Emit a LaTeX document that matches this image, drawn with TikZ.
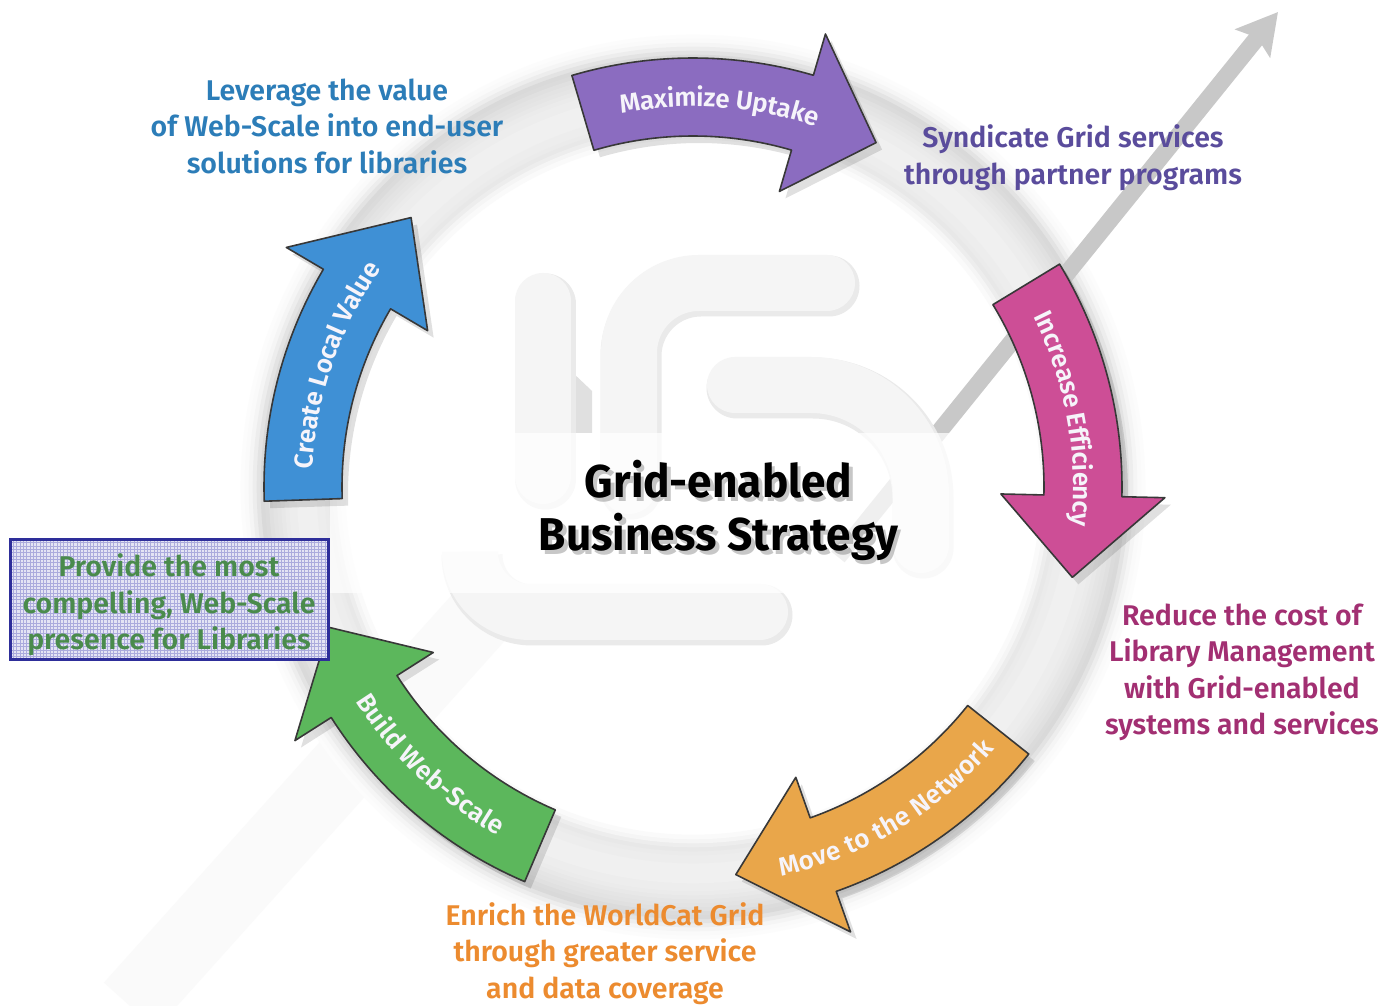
\documentclass[tikz,border=0pt]{standalone}
\usepackage{fontspec}
\setmainfont{Fira Sans}
\newfontfamily\titlefam{Fira Sans}[FakeStretch=0.96]
\newfontfamily\semib{Fira Sans}[UprightFont=* SemiBold]
\usetikzlibrary{decorations.text,arrows.meta}
\definecolor{blueA}{HTML}{3F90D5}
\definecolor{purpleA}{HTML}{8B6CC0}
\definecolor{magentaA}{HTML}{CD4E96}
\definecolor{orangeA}{HTML}{E9A64A}
\definecolor{greenA}{HTML}{5CB75C}
\definecolor{blueT}{HTML}{2C7DB8}
\definecolor{purpleT}{HTML}{5A4C9C}
\definecolor{magentaT}{HTML}{A22F72}
\definecolor{orangeT}{HTML}{EC8B2F}
\definecolor{greenT}{HTML}{4A8B4C}
\definecolor{boxB}{HTML}{2E2E9A}
\definecolor{boxF}{HTML}{E4E4F4}
\definecolor{boxG}{HTML}{ABABDD}
\definecolor{diagray}{HTML}{C8C8C8}
\definecolor{logoF}{HTML}{F5F5F5}
\definecolor{logoS}{HTML}{EAEAEA}
\definecolor{arrowtext}{HTML}{F6F4FA}
\newcommand\lblfont{\semib\fontsize{28.5}{36.5}\selectfont}
\newcommand\arrowlbl{\semib\fontsize{26}{26}\selectfont}
\newcommand\cyclearrow[3]{%
  (#1:429) arc[start angle=#1, end angle=#2, radius=429] -- (#2:472) -- (#3:390)
  -- (#2:308) -- (#2:351) arc[start angle=#2, end angle=#1, radius=351] -- cycle}
\tikzset{
  label/.style={align=center, font=\lblfont, inner sep=0pt},
  arrowbody/.style={draw=black!78, line width=1.6pt, line join=round},
  arrowshadow/.style={fill=black, opacity=0.12},
  logopiece/.style={line width=56pt, line cap=round, draw=logoF, rounded corners=#1},
  logoshadow/.style={line width=61pt, line cap=round, draw=logoS, rounded corners=#1},
}
\begin{document}
\begin{tikzpicture}[x=1pt,y=1pt]
\useasboundingbox (0,0) rectangle (1386,1006);
\fill[white] (0,0) rectangle (1386,1006);
\coordinate (C) at (693,519);

% faint lower-left band
\draw[line width=70pt, black!2] (130,0) -- (480,390);

% ring
\foreach \r/\g in {450/1,446/2,442/4,438/7,434/11,430/15,426/14,422/12,418/11,414/10,410/9,406/8,402/7,398/7,394/6,390/6,386/6,382/6,378/6,374/7,370/7,366/8,362/9,358/7,354/4,350/2}
  \draw[line width=4.6pt, black!\g] (C) circle[radius=\r];

% diagonal grey arrow
\coordinate (dgA) at (838,449);
\coordinate (dgT) at (1278,994);
\draw[line width=17pt, diagray, -{Stealth[length=40pt,width=44pt,inset=7pt]}] (dgA) -- (dgT);

% background logo
\fill[black!12] (551,573) -- (551,615) -- (573,633) -- (592,615) -- (592,573) -- cycle;
\begin{scope}[shift={(2,-3)}]
\draw[logoshadow=70] (827,723) -- (629,723) -- (629,520);
\draw[logoshadow=10] (543,705) -- (543,530);
\draw[logoshadow=110] (735,621) -- (921,621) -- (921,461);
\draw[logoshadow=60] (470,451) -- (470,394) -- (760,394);
\end{scope}
\draw[logopiece=70] (827,723) -- (629,723) -- (629,520);
\draw[logopiece=10] (543,705) -- (543,530);
\draw[logopiece=110] (735,621) -- (921,621) -- (921,461);
\draw[logopiece=60] (470,451) -- (470,394) -- (760,394);

% translucent central band
\fill[white, opacity=0.72] (330,413) rectangle (1010,573);

% title
\node[font=\titlefam\fontsize{46}{53}\selectfont\bfseries, align=center, text=black, opacity=0.22] (titlesh) at (722,492) {Grid-enabled\\Business Strategy};
\node[font=\titlefam\fontsize{46}{53}\selectfont\bfseries, align=center, text=black] (title) at (718.5,496) {Grid-enabled\\Business Strategy};

% cycle arrows
\begin{scope}[shift={(C)}]
  \begin{scope}[shift={(6,-7)}]
    \fill[arrowshadow] \cyclearrow{181.9}{149.5}{136.3};
    \fill[arrowshadow] \cyclearrow{106.4}{73.7}{62};
    \fill[arrowshadow] \cyclearrow{31.3}{-1.3}{-13.4};
    \fill[arrowshadow] \cyclearrow{-38.5}{-70.5}{-83.7};
    \fill[arrowshadow] \cyclearrow{-113.1}{-147.5}{-158.9};
  \end{scope}
  \path[arrowbody, fill=blueA] \cyclearrow{181.9}{149.5}{136.3};
  \path[arrowbody, fill=purpleA] \cyclearrow{106.4}{73.7}{62};
  \path[arrowbody, fill=magentaA] \cyclearrow{31.3}{-1.3}{-13.4};
  \path[arrowbody, fill=orangeA] \cyclearrow{-38.5}{-70.5}{-83.7};
  \path[arrowbody, fill=greenA] \cyclearrow{-113.1}{-147.5}{-158.9};

  \path[decorate, decoration={text along path, text color=arrowtext, text align=center, raise=-9.5pt,
    text={|\arrowlbl|Create Local Value}}] (186.2:390) arc[start angle=186.2, end angle=136.2, radius=390];
  \path[decorate, decoration={text along path, text color=arrowtext, text align=center, raise=-9.5pt,
    text={|\arrowlbl|Maximize Uptake}}] (111:390) arc[start angle=111, end angle=61, radius=390];
  \path[decorate, decoration={text along path, text color=arrowtext, text align=center, raise=-9.5pt,
    text={|\arrowlbl|Increase Efficiency}}] (35.4:390) arc[start angle=35.4, end angle=-14.6, radius=390];
  \path[decorate, decoration={text along path, text color=arrowtext, text align=center, raise=-9.5pt,
    text={|\arrowlbl|Move to the Network}}] (-84.1:390) arc[start angle=-84.1, end angle=-34.1, radius=390];
  \path[decorate, decoration={text along path, text color=arrowtext, text align=center, raise=-9.5pt,
    text={|\arrowlbl|Build Web-Scale}}] (-158.4:390) arc[start angle=-158.4, end angle=-108.4, radius=390];
\end{scope}

% outer labels
\node[label, text=blueT] (lev) at (327,880) {Leverage the value\\of Web-Scale into end-user\\solutions for libraries};
\node[label, text=purpleT] (syn) at (1073,848.5) {Syndicate Grid services\\through partner programs};
\node[label, text=magentaT] (red) at (1242,333.5) {Reduce the cost of\\Library Management\\with Grid-enabled\\systems and services};
\node[label, text=orangeT] (enr) at (605,52.5) {Enrich the WorldCat Grid\\through greater service\\and data coverage};

% gridded box
\fill[boxF] (10,346) rectangle (328,466);
\begin{scope}
  \clip (10,346) rectangle (328,466);
  \foreach \gx in {0,...,95} \draw[boxG, line width=0.8pt] ({10+3.35*\gx},346) -- ++(0,120);
  \foreach \gy in {0,...,36} \draw[boxG, line width=0.8pt] (10,{346+3.35*\gy}) -- ++(318,0);
\end{scope}
\draw[boxB, line width=3pt] (10,346) rectangle (328,466);
\node[label, text=greenT] (prov) at (169,401) {Provide the most\\compelling, Web-Scale\\presence for Libraries};
\end{tikzpicture}
\end{document}
